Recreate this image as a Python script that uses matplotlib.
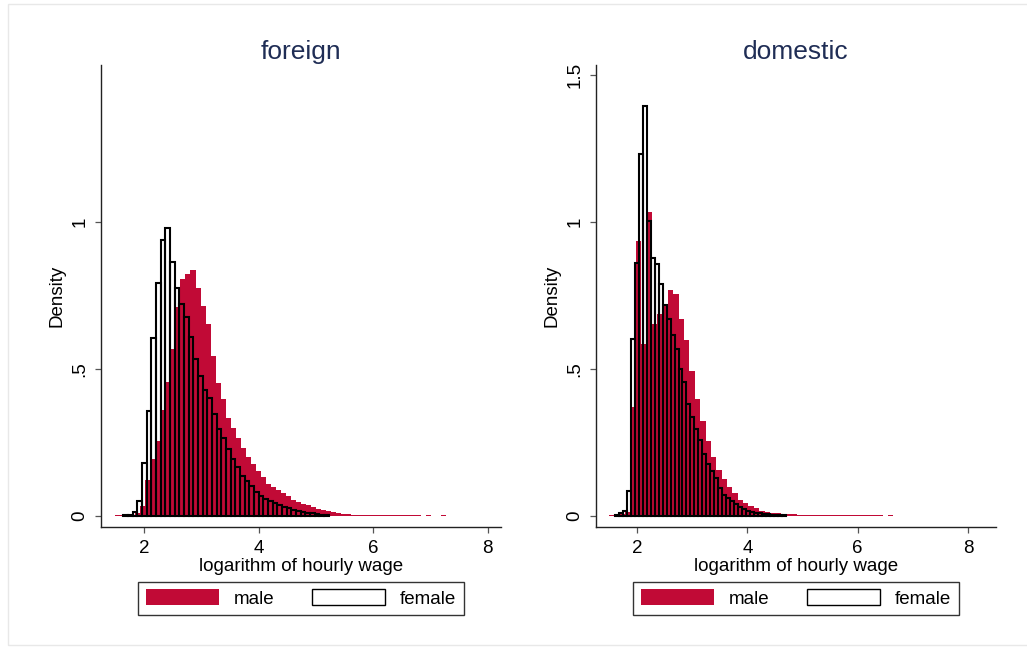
"""
log hourly wage histograms, foreign vs domestic, male vs female
"""

import numpy as np
from matplotlib import pyplot as plt
from matplotlib.patches import Patch, Rectangle

plt.rcParams['font.family'] = ['Liberation Sans', 'DejaVu Sans']

# bins: start and width of each histogram
foreign_male_start = 1.50
foreign_male_width = 0.0875
foreign_male = [0.004, 0.004, 0.004, 0.005, 0.010, 0.034, 0.122, 0.193, 0.255, 0.360,
                0.456, 0.570, 0.710, 0.808, 0.825, 0.837, 0.777, 0.715, 0.655, 0.545,
                0.451, 0.397, 0.332, 0.298, 0.264, 0.230, 0.200, 0.177, 0.154, 0.134,
                0.108, 0.100, 0.088, 0.079, 0.068, 0.056, 0.046, 0.041, 0.037, 0.031,
                0.024, 0.020, 0.016, 0.013, 0.010, 0.007, 0.007, 0.005, 0.005, 0.005,
                0.004, 0.004, 0.004, 0.004, 0.004, 0.004, 0.004, 0.004, 0.004, 0.004,
                0.004, 0.0, 0.004, 0.0, 0.0, 0.004]

foreign_female_start = 1.64
foreign_female_width = 0.0815
foreign_female = [0.003, 0.004, 0.012, 0.051, 0.179, 0.357, 0.606, 0.794, 0.941, 0.979,
                  0.865, 0.777, 0.721, 0.676, 0.608, 0.534, 0.477, 0.429, 0.400, 0.346,
                  0.296, 0.264, 0.227, 0.194, 0.168, 0.137, 0.120, 0.102, 0.081, 0.069,
                  0.059, 0.051, 0.043, 0.037, 0.032, 0.028, 0.022, 0.018, 0.015, 0.011,
                  0.009, 0.007, 0.004, 0.003]

domestic_male_start = 1.493
domestic_male_width = 0.0972
domestic_male = [0.004, 0.005, 0.008, 0.015, 0.372, 0.935, 0.587, 1.034, 0.655, 0.687,
                 0.723, 0.769, 0.755, 0.670, 0.599, 0.493, 0.398, 0.323, 0.256, 0.202,
                 0.156, 0.126, 0.100, 0.077, 0.054, 0.043, 0.034, 0.026, 0.018, 0.015,
                 0.011, 0.009, 0.008, 0.007, 0.006, 0.005, 0.005, 0.004, 0.004, 0.004,
                 0.004, 0.004, 0.004, 0.004, 0.004, 0.004, 0.004, 0.004, 0.004, 0.004,
                 0.004, 0.0, 0.004]

domestic_female_start = 1.60
domestic_female_width = 0.0720
domestic_female = [0.004, 0.009, 0.018, 0.085, 0.604, 0.862, 1.231, 1.395, 1.003, 0.879,
                   0.856, 0.789, 0.718, 0.672, 0.616, 0.570, 0.499, 0.455, 0.380, 0.336,
                   0.295, 0.259, 0.211, 0.177, 0.153, 0.130, 0.096, 0.070, 0.062, 0.051,
                   0.040, 0.032, 0.024, 0.017, 0.015, 0.011, 0.009, 0.008, 0.006, 0.005,
                   0.004, 0.003, 0.003]

x_ticks = [2, 4, 6, 8]
y_ticks_left = [0, 0.5, 1]
y_ticks_right = [0, 0.5, 1, 1.5]
y_labels = {0: '0', 0.5: '.5', 1: '1', 1.5: '1.5'}

RED = '#C10A36'
TITLE = '#1F2D55'
FS = 13.5


def draw_panel(ax, title, m_start, m_width, m_vals, f_start, f_width, f_vals, yticks, xmax):
    m_edges = m_start + m_width * np.arange(len(m_vals) + 1)
    ax.stairs(m_vals, m_edges, fill=True, color=RED, linewidth=0)
    f_left = f_start + f_width * np.arange(len(f_vals))
    ax.bar(f_left, f_vals, width=f_width, align='edge', fill=False,
           edgecolor='black', linewidth=1.5)

    ax.set_xlim(1.25, xmax)
    ax.set_ylim(-0.0375, 1.535)
    ax.set_xticks(x_ticks)
    ax.set_yticks(yticks)
    ax.set_yticklabels([y_labels[t] for t in yticks], rotation=90, va='center')
    for s in ['top', 'right']:
        ax.spines[s].set_visible(False)
    for s in ['left', 'bottom']:
        ax.spines[s].set_color('#222222')
        ax.spines[s].set_linewidth(1.0)
    ax.tick_params(axis='both', direction='out', length=4, width=0.9,
                   color='#555555', labelsize=FS, pad=5)
    ax.set_xlabel('logarithm of hourly wage', fontsize=FS, labelpad=1)
    ax.set_ylabel('Density', fontsize=FS, labelpad=4)
    ax.set_title(title, fontsize=19, color=TITLE, pad=4)

    handles = [Patch(facecolor=RED, edgecolor=RED, linewidth=0),
               Patch(facecolor='white', edgecolor='black', linewidth=1.0)]
    leg = ax.legend(handles, ['male', 'female'], loc='upper center',
                    bbox_to_anchor=(0.5, -0.118), ncol=2, fontsize=FS,
                    frameon=True, fancybox=False, handlelength=3.9,
                    handleheight=0.95, handletextpad=0.8, columnspacing=2.0,
                    borderpad=0.4, borderaxespad=0)
    leg.get_frame().set_edgecolor('black')
    leg.get_frame().set_linewidth(1.0)


if __name__ == '__main__':
    fig = plt.figure(figsize=(10.27, 6.48), dpi=100)
    ax1 = fig.add_axes([0.0983, 0.1867, 0.3895, 0.7130])
    ax2 = fig.add_axes([0.5800, 0.1867, 0.3898, 0.7130])

    draw_panel(ax1, 'foreign', foreign_male_start, foreign_male_width, foreign_male,
               foreign_female_start, foreign_female_width, foreign_female,
               y_ticks_left, 8.23)
    draw_panel(ax2, 'domestic', domestic_male_start, domestic_male_width, domestic_male,
               domestic_female_start, domestic_female_width, domestic_female,
               y_ticks_right, 8.507)

    # faint outer frame
    fig.patches.append(Rectangle((8 / 1027, 3 / 648), 1.0, 641 / 648,
                                 transform=fig.transFigure, fill=False,
                                 edgecolor='#e8e8e8', linewidth=1.0))

    fig.savefig('out.png', dpi=100)
